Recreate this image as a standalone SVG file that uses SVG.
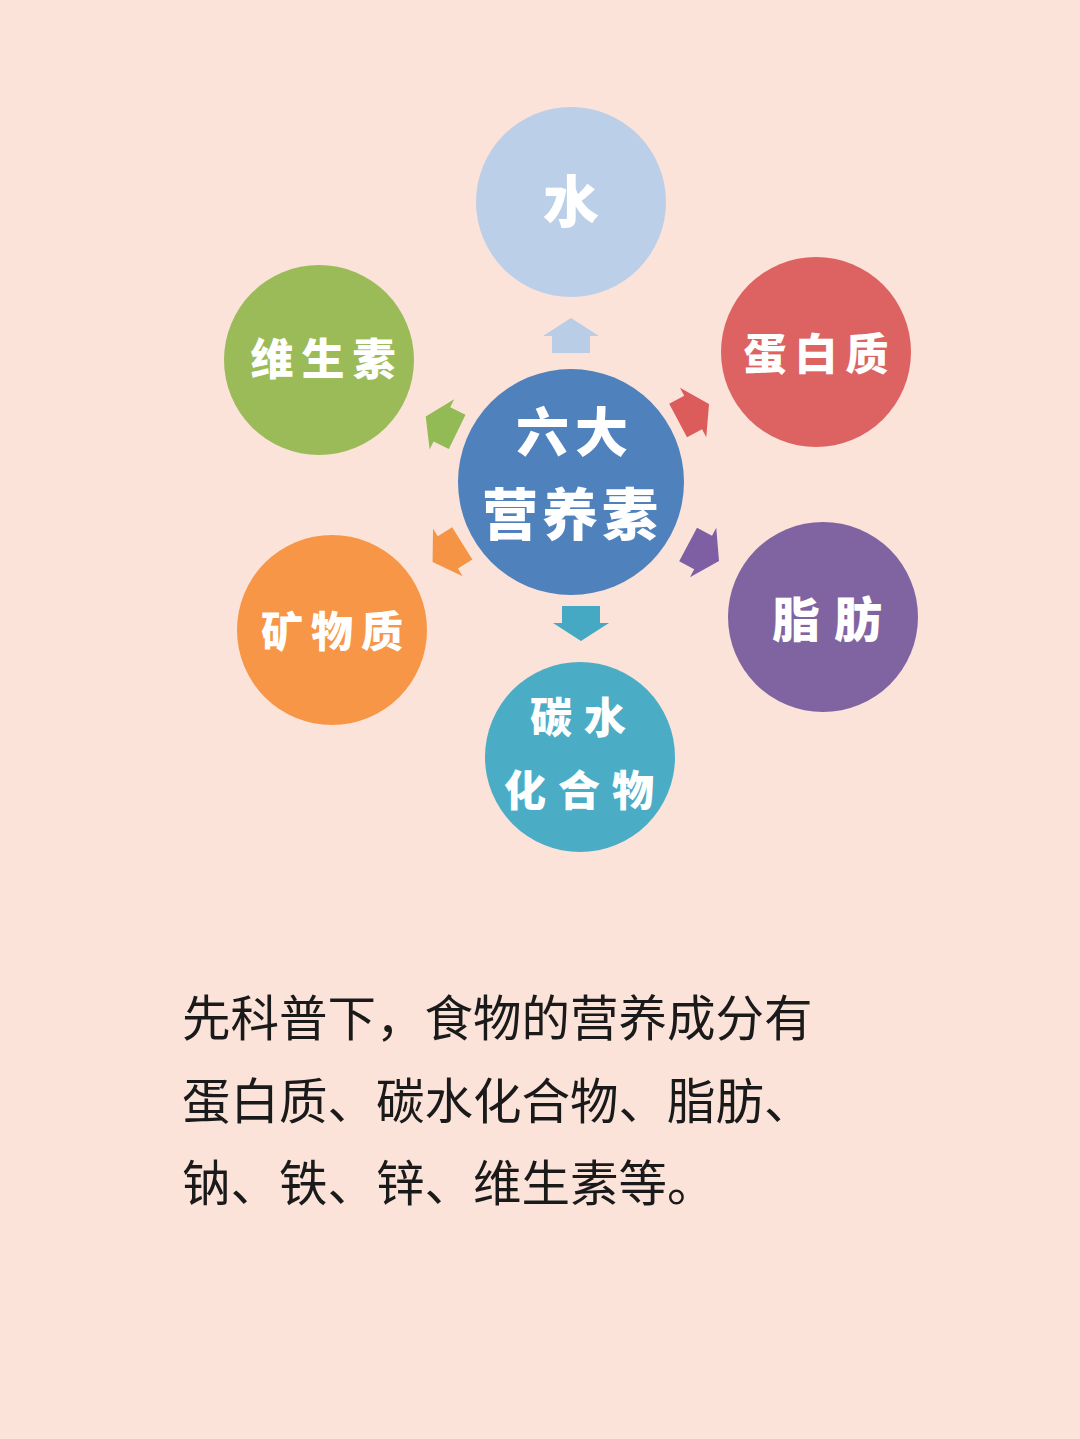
<svg xmlns="http://www.w3.org/2000/svg" width="1080" height="1439" viewBox="0 0 1080 1439">
<defs>
<style>
.lbl{font-family:"Noto Sans CJK SC","Noto Sans",sans-serif;font-weight:900;fill:#ffffff;text-anchor:middle}
.body{font-family:"Noto Sans CJK SC","Noto Sans",sans-serif;font-weight:400;fill:#1a1a1a;font-size:48.5px}
</style>
<polygon id="arr" points="-19,18 19,18 19,1 28,1 0,-17 -28,1 -19,1"/>
</defs>
<rect width="1080" height="1439" fill="#fbe3d9"/>
<g id="connectors">
<use href="#arr" fill="#b9cde6" transform="translate(571,335)"/>
<use href="#arr" fill="#dc5b5b" transform="translate(694,412) rotate(62)"/>
<use href="#arr" fill="#7f5fa3" transform="translate(704,553) rotate(118)"/>
<use href="#arr" fill="#45a9c4" transform="translate(581,624) rotate(180)"/>
<use href="#arr" fill="#f59444" transform="translate(447,553) rotate(238)"/>
<use href="#arr" fill="#93bb55" transform="translate(441,424) rotate(-64)"/>
</g>
<g id="water">
<circle cx="571" cy="202" r="95" fill="#bccfe8"/>
<text class="lbl" x="571" y="222" font-size="56">水</text>
</g>
<g id="protein">
<circle cx="816" cy="352" r="95" fill="#dd6262"/>
<text class="lbl" x="820" y="370" font-size="43" letter-spacing="8">蛋白质</text>
</g>
<g id="fat">
<circle cx="823" cy="617" r="95" fill="#8064a2"/>
<text class="lbl" x="834" y="637" font-size="48" letter-spacing="14">脂肪</text>
</g>
<g id="carb">
<circle cx="580" cy="757" r="95" fill="#4bacc6"/>
<text class="lbl" x="584" y="733" font-size="42" letter-spacing="12">碳水</text>
<text class="lbl" x="585" y="806" font-size="42" letter-spacing="12">化合物</text>
</g>
<g id="mineral">
<circle cx="332" cy="630" r="95" fill="#f79646"/>
<text class="lbl" x="336" y="647" font-size="42" letter-spacing="8">矿物质</text>
</g>
<g id="vitamin">
<circle cx="319" cy="360" r="95" fill="#9bbb59"/>
<text class="lbl" x="327" y="375" font-size="43" letter-spacing="8">维生素</text>
</g>
<g id="center">
<circle cx="571" cy="482" r="113" fill="#4f81bd"/>
<text class="lbl" x="575" y="452" font-size="53" letter-spacing="6">六大</text>
<text class="lbl" x="572" y="535" font-size="56" letter-spacing="4">营养素</text>
</g>
<g id="caption">
<text class="body" x="182" y="1036">先科普下，食物的营养成分有</text>
<text class="body" x="182" y="1119">蛋白质、碳水化合物、脂肪、</text>
<text class="body" x="182" y="1201">钠、铁、锌、维生素等。</text>
</g>
</svg>
